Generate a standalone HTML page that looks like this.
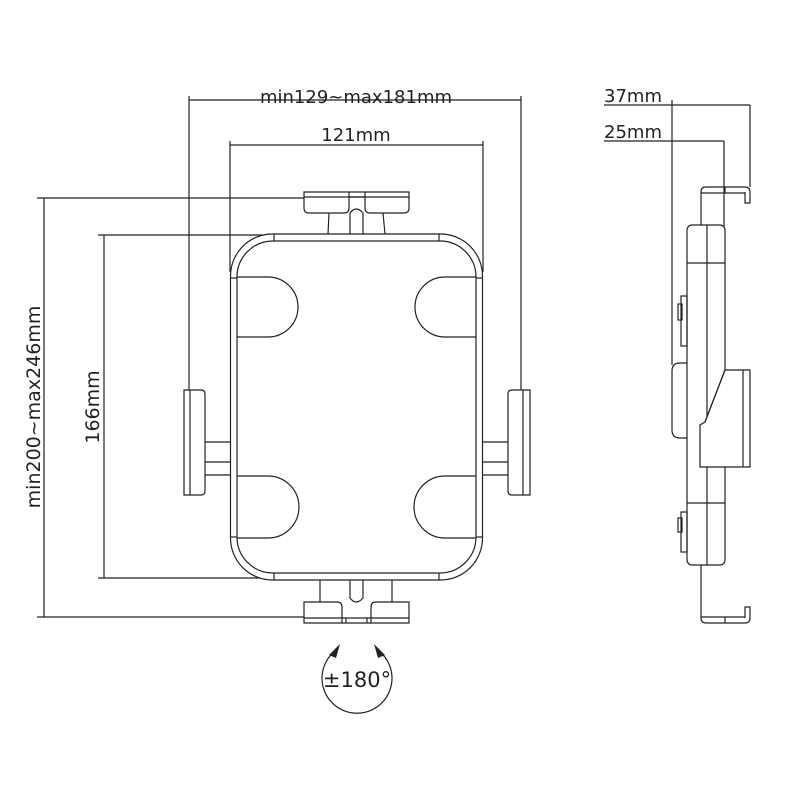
<!DOCTYPE html>
<html><head><meta charset="utf-8"><style>
html,body{margin:0;padding:0;background:#fff;}
svg{display:block;}
text{font-family:"DejaVu Sans","Liberation Sans",sans-serif;fill:#222;}
</style></head><body>
<svg width="800" height="800" viewBox="0 0 800 800" xmlns="http://www.w3.org/2000/svg">
<g fill="none" stroke="#222" stroke-width="1.2">
<!-- dimension lines front -->
<line x1="189" y1="100" x2="521" y2="100"/>
<line x1="189" y1="96" x2="189" y2="390"/>
<line x1="521" y1="96" x2="521" y2="390"/>
<line x1="230" y1="145" x2="483" y2="145"/>
<line x1="230" y1="141" x2="230" y2="272"/>
<line x1="483" y1="141" x2="483" y2="272"/>
<line x1="44" y1="198" x2="44" y2="617"/>
<line x1="37" y1="198" x2="304" y2="198"/>
<line x1="37" y1="617" x2="304" y2="617"/>
<line x1="104" y1="235" x2="104" y2="578"/>
<line x1="98" y1="235" x2="262" y2="235"/>
<line x1="98" y1="578" x2="262" y2="578"/>

<!-- top clamp -->
<path d="M304 192 H409 V208 Q409 213 404 213 H370 Q365 213 365 208 V197 H349 V208 Q349 213 344 213 H309 Q304 213 304 208 Z" fill="#fff"/>
<line x1="304" y1="197" x2="409" y2="197"/>
<line x1="349" y1="192" x2="349" y2="197"/>
<line x1="365" y1="192" x2="365" y2="197"/>
<line x1="329" y1="213" x2="328" y2="234"/>
<line x1="383" y1="213" x2="385" y2="234"/>
<path d="M350 234 V213 Q356 205 363 213 V234"/>
<!-- bottom clamp -->
<line x1="320" y1="580" x2="320" y2="602"/>
<line x1="392" y1="580" x2="392" y2="602"/>
<path d="M350 580 V598 Q356 606 363 598 V580"/>
<path d="M304 602 Q304 602 309 602 H337 Q342 602 342 607 V623 H304 Z"/>
<path d="M409 602 H376 Q371 602 371 607 V623 H409 Z"/>
<line x1="304" y1="618" x2="409" y2="618"/>
<line x1="342" y1="623" x2="371" y2="623"/>
<line x1="346" y1="618" x2="346" y2="623"/>
<line x1="367" y1="618" x2="367" y2="623"/>

<!-- side arms -->
<path d="M184 390 H201 Q205 390 205 394 V491 Q205 495 201 495 H184 Z"/>
<line x1="190" y1="390" x2="190" y2="495"/>
<line x1="205" y1="442" x2="231" y2="442"/>
<line x1="205" y1="462" x2="231" y2="462"/>
<line x1="205" y1="475" x2="231" y2="475"/>
<path d="M530 390 H512 Q508 390 508 394 V491 Q508 495 512 495 H530 Z"/>
<line x1="523" y1="390" x2="523" y2="495"/>
<line x1="482" y1="442" x2="508" y2="442"/>
<line x1="482" y1="462" x2="508" y2="462"/>
<line x1="482" y1="475" x2="508" y2="475"/>

<!-- body -->
<rect x="230.5" y="234" width="252" height="346" rx="42" fill="#fff"/>
<rect x="237" y="241" width="239" height="332" rx="36"/>
<line x1="231" y1="278" x2="237" y2="278"/>
<line x1="476" y1="278" x2="482" y2="278"/>
<line x1="231" y1="537" x2="237" y2="537"/>
<line x1="476" y1="537" x2="482" y2="537"/>
<line x1="274" y1="234" x2="274" y2="241"/>
<line x1="439" y1="234" x2="439" y2="241"/>
<line x1="274" y1="573" x2="274" y2="580"/>
<line x1="439" y1="573" x2="439" y2="580"/>
<!-- lobes -->
<path d="M237 277 H268 A30 30 0 0 1 268 337 H237"/>
<path d="M237 476 H268 A31 31 0 0 1 268 538 H237"/>
<path d="M476 277 H445 A30 30 0 0 0 445 337 H476"/>
<path d="M476 476 H445 A31 31 0 0 0 445 538 H476"/>

<!-- side view dims -->
<line x1="604" y1="105" x2="750" y2="105"/>
<line x1="750" y1="105" x2="750" y2="187"/>
<line x1="604" y1="141" x2="724" y2="141"/>
<line x1="724" y1="141" x2="724" y2="227"/>
<line x1="672" y1="100" x2="672" y2="365"/>

<!-- side view -->
<path d="M701 225 V192 Q701 187 706 187 H745 Q750 187 750 192 V203 H745 V192"/>
<line x1="701" y1="193" x2="745" y2="193"/>
<line x1="725" y1="187" x2="725" y2="193"/>
<path d="M701 565 V618 Q701 623 706 623 H745 Q750 623 750 618 V607 H745 V618"/>
<line x1="701" y1="617" x2="745" y2="617"/>
<line x1="725" y1="617" x2="725" y2="623"/>
<rect x="687" y="225" width="38" height="340" rx="5" fill="#fff"/>
<line x1="707" y1="225" x2="707" y2="565"/>
<line x1="687" y1="263" x2="725" y2="263"/>
<line x1="687" y1="503" x2="725" y2="503"/>
<path d="M725 370 H750 V467 H700 V425 L705 422 Z" fill="#fff"/>
<line x1="743" y1="370" x2="743" y2="467"/>
<line x1="705" y1="422" x2="725" y2="370"/>
<path d="M687 363 H680 Q672 363 672 371 V430 Q672 438 680 438 H687"/>
<rect x="681" y="296" width="6" height="50"/>
<rect x="678" y="304" width="4" height="16"/>
<rect x="681" y="512" width="6" height="40"/>
<rect x="678" y="518" width="4" height="14"/>

<!-- rotation symbol -->
<path d="M335 651 A35 35 0 1 0 379 651"/>
</g>
<path d="M340 644 L329 655 L336 658 Z" fill="#222"/>
<path d="M374 644 L385 655 L378 658 Z" fill="#222"/>

<text x="356" y="103" font-size="18" text-anchor="middle">min129~max181mm</text>
<text x="356" y="141" font-size="18" text-anchor="middle">121mm</text>
<text x="604" y="102" font-size="18">37mm</text>
<text x="604" y="138" font-size="18">25mm</text>
<text x="357" y="687" font-size="21" text-anchor="middle">±180°</text>
<text transform="translate(40,407) rotate(-90)" font-size="19" text-anchor="middle">min200~max246mm</text>
<text transform="translate(99,407) rotate(-90)" font-size="19" text-anchor="middle">166mm</text>
</svg>
</body></html>
